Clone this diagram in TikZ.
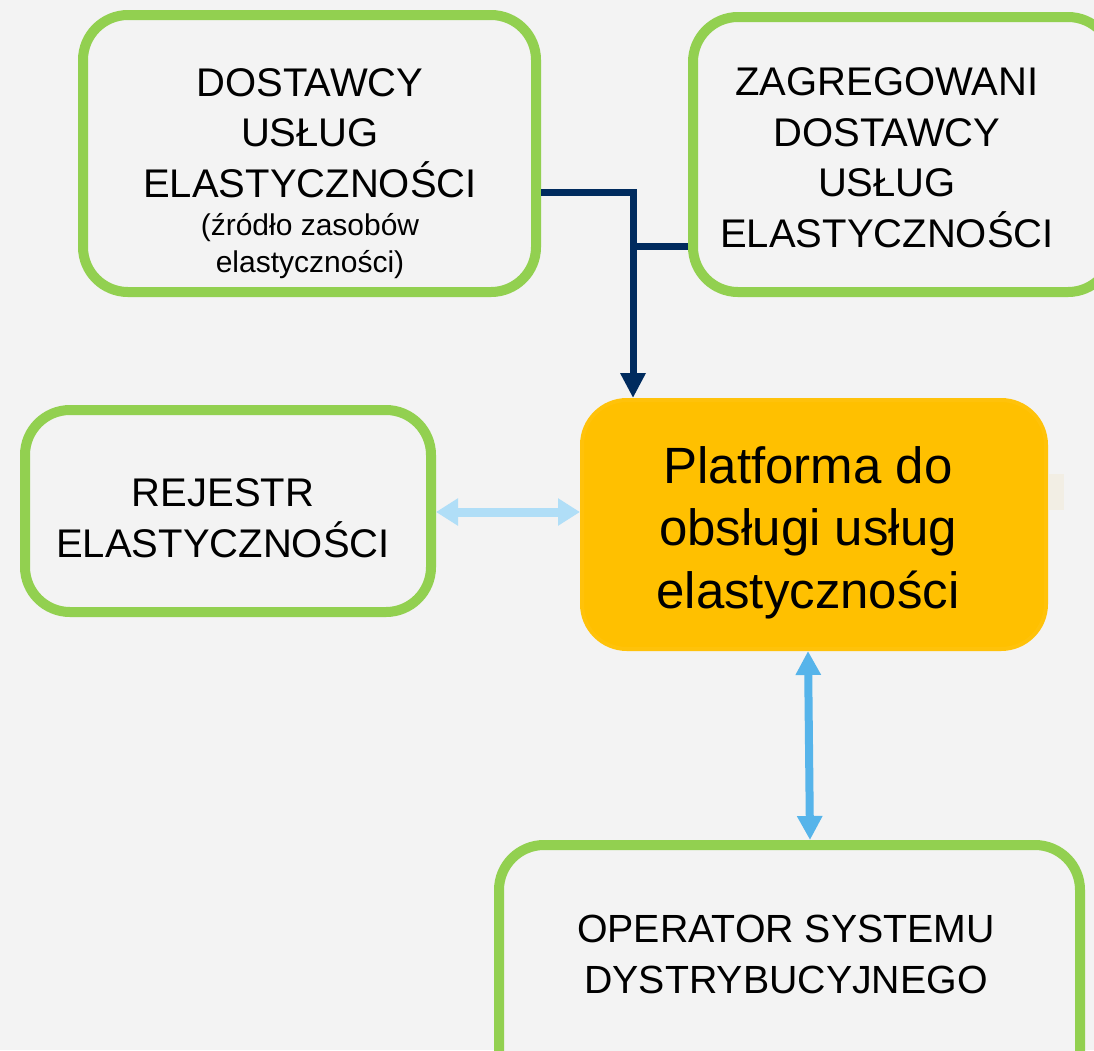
\documentclass[tikz,border=0pt]{standalone}
\usepackage{fontspec}
\setmainfont{Liberation Sans}
\usetikzlibrary{arrows.meta}
\definecolor{bgc}{HTML}{F3F3F3}
\definecolor{boxgreen}{HTML}{92D050}
\definecolor{orng}{HTML}{FFC000}
\definecolor{orngline}{HTML}{FFC20A}
\definecolor{navyc}{HTML}{002B5E}
\definecolor{lblue}{HTML}{B0DEF7}
\definecolor{mblue}{HTML}{56B4EA}
\definecolor{faint}{HTML}{F2EEE4}
\tikzset{
  greenbox/.style={draw=boxgreen, line width=10pt, rounded corners=45pt, fill=bgc, inner sep=0pt},
  orangebox/.style={draw=orngline, line width=4pt, rounded corners=45pt, fill=orng, inner sep=0pt},
  bigtxt/.style={align=center, anchor=base, inner sep=0pt, font=\fontsize{40}{50.5}\selectfont},
  smalltxt/.style={align=center, anchor=base, inner sep=0pt, font=\fontsize{30}{37}\selectfont},
  platxt/.style={align=center, anchor=base, inner sep=0pt, font=\fontsize{51}{62.5}\selectfont},
  navyline/.style={draw=navyc, line width=7pt},
  lightarrow/.style={draw=lblue, line width=9pt, {Triangle[width=26pt,length=22pt]}-{Triangle[width=26pt,length=22pt]}},
  bluearrow/.style={draw=mblue, line width=8pt, {Triangle[width=24pt,length=24pt]}-{Triangle[width=24pt,length=24pt]}}
}
\begin{document}
\begin{tikzpicture}[x=1pt,y=-1pt]
\useasboundingbox (0,0) rectangle (1094,1050);
\clip (0,0) rectangle (1094,1050);
\fill[bgc] (0,0) rectangle (1094,1050);

% boxes
\node[greenbox, minimum width=453pt, minimum height=277pt] (dost) at (309.5,153.5) {};
\node[greenbox, minimum width=420pt, minimum height=275pt] (zag) at (903,154.5) {};
\node[greenbox, minimum width=406pt, minimum height=202pt] (rej) at (228,511) {};
\node[orangebox, minimum width=464pt, minimum height=249pt] (plat) at (814,524.5) {};
\node[fill=faint, minimum width=15pt, minimum height=36pt, inner sep=0pt] (ghost) at (1056.5,492) {};
\node[greenbox, minimum width=581pt, minimum height=255pt] (op) at (789.5,972.5) {};

% texts (anchor=base is the baseline of the last line)
\node[bigtxt] (t1) at (310,197) {DOSTAWCY\\USŁUG\\ELASTYCZNOŚCI};
\node[smalltxt] (t1s) at (310,272) {(źródło zasobów\\elastyczności)};
\node[bigtxt] (t2) at (887,247) {ZAGREGOWANI\\DOSTAWCY\\USŁUG\\ELASTYCZNOŚCI};
\node[bigtxt] (t3) at (223,557) {REJESTR\\ELASTYCZNOŚCI};
\node[platxt] (t4) at (808,608) {Platforma do\\obsługi usług\\elastyczności};
\node[bigtxt, font=\fontsize{39.3}{50.5}\selectfont] (t5) at (786,993) {OPERATOR SYSTEMU\\DYSTRYBUCYJNEGO};

% connectors
\coordinate (j1) at (633,192);
\coordinate (j2) at (633,246);
\draw[navyline] (dost.east |- j1) -- ([xshift=3.5pt]j1);
\draw[navyline] (zag.west |- j2) -- (j2);
\draw[navyline, -{Triangle[width=24pt,length=25pt]}] (j1) -- (plat.north -| j1);
\draw[lightarrow] (rej.east |- 0,512) -- (plat.west |- 0,512);
\draw[bluearrow] ([xshift=-6pt]plat.south) -- ([xshift=20.5pt]op.north);
\end{tikzpicture}
\end{document}
